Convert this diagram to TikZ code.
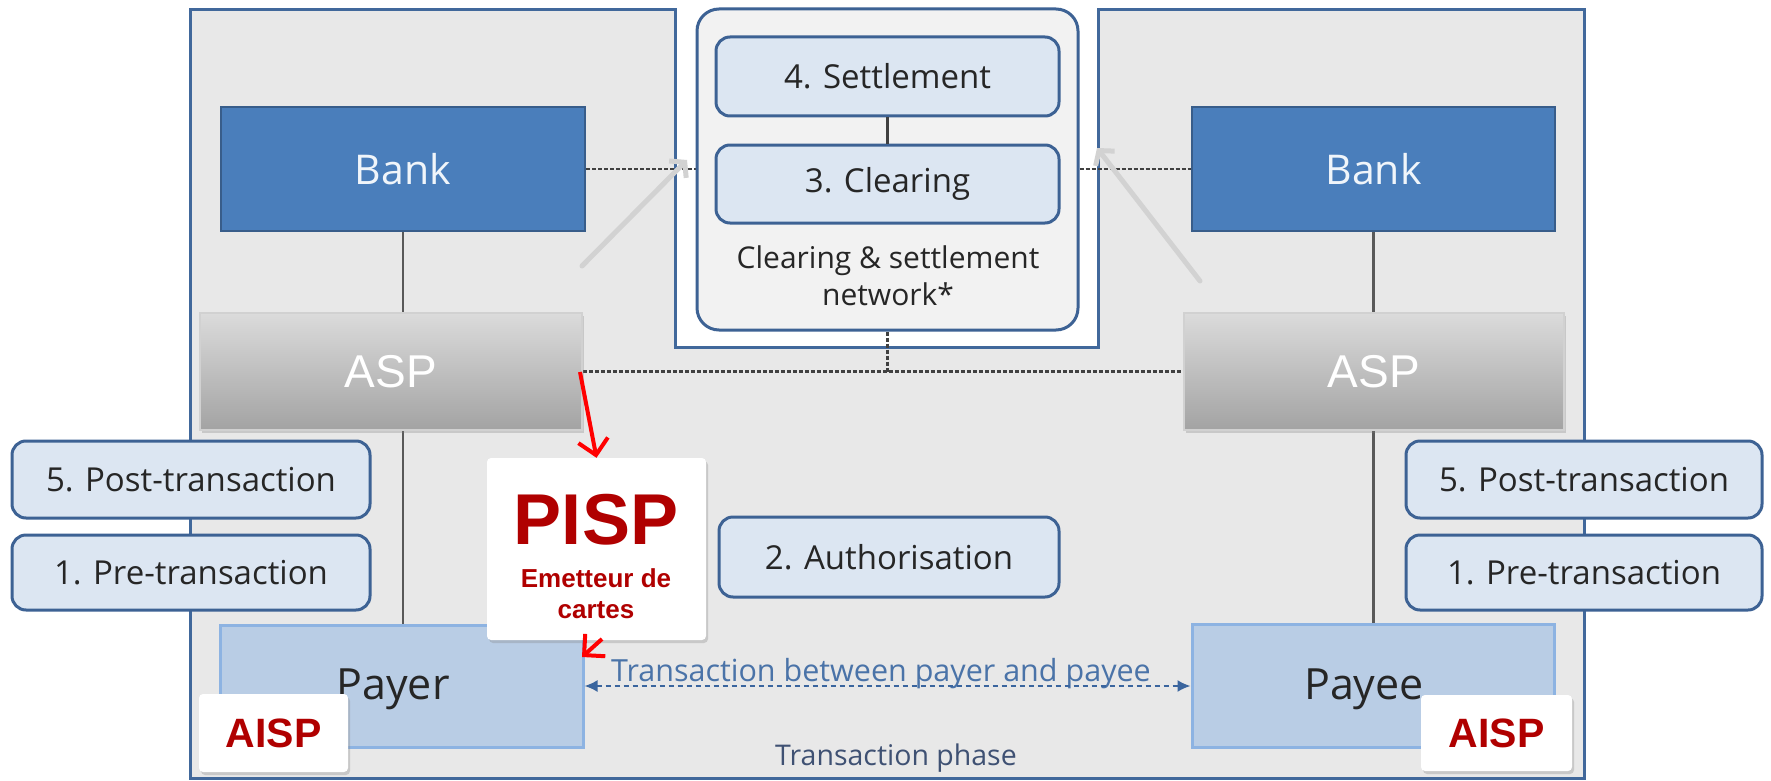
\documentclass[tikz,border=0pt]{standalone}
\usepackage{fontspec}
\setmainfont{Open Sans}
\newfontfamily\arialf{Liberation Sans}
\usetikzlibrary{arrows.meta,shadows}
\definecolor{framefill}{HTML}{E8E8E8}
\definecolor{frameline}{HTML}{41689B}
\definecolor{netfill}{HTML}{F2F2F2}
\definecolor{stepfill}{HTML}{DCE6F2}
\definecolor{stepline}{HTML}{3D6294}
\definecolor{bankfill}{HTML}{4A7EBB}
\definecolor{bankline}{HTML}{385D8A}
\definecolor{partyfill}{HTML}{B9CDE5}
\definecolor{partyline}{HTML}{8DB3E2}
\definecolor{asptop}{HTML}{DBDBDB}
\definecolor{aspbot}{HTML}{A3A3A3}
\definecolor{connline}{HTML}{595959}
\definecolor{dashline}{HTML}{404040}
\definecolor{ghost}{HTML}{D2D2D2}
\definecolor{darkred}{HTML}{B00000}
\definecolor{txblue}{HTML}{3A659E}
\definecolor{txtext}{HTML}{4A73A8}
\definecolor{phasetext}{HTML}{3F5173}
\definecolor{ink}{HTML}{262626}
\pgfdeclarelayer{bottom}
\pgfdeclarelayer{back}
\pgfdeclarelayer{front}
\pgfsetlayers{bottom,back,main,front}
\tikzset{
  stepbox/.style={draw=stepline, line width=3pt, fill=stepfill, rounded corners=14pt, text=ink, inner sep=0pt, font=\fontsize{33}{40}\selectfont},
  bankbox/.style={draw=bankline, line width=2.5pt, fill=bankfill, text=white!92!bankfill, inner sep=0pt, font=\fontsize{41}{48}\selectfont},
  aspbox/.style={top color=asptop, bottom color=aspbot, draw=white!82!black, line width=1.5pt, inner sep=0pt, text=white, font=\arialf\fontsize{46}{55}\selectfont, drop shadow={shadow xshift=2pt, shadow yshift=-3pt, opacity=0.3}},
  partybox/.style={draw=partyline, line width=3pt, fill=partyfill, text=ink, inner sep=0pt},
  netbox/.style={draw=stepline, line width=3pt, fill=netfill, rounded corners=22pt, inner sep=0pt},
  notebox/.style={fill=white, rounded corners=4pt, inner sep=0pt, drop shadow={shadow xshift=2pt, shadow yshift=-3pt, opacity=0.3}},
  redtext/.style={text=darkred, font=\arialf\bfseries\fontsize{#1}{#1}\selectfont},
  conn/.style={draw=connline, line width=2.5pt},
  dashconn/.style={draw=dashline, line width=2.5pt, dash pattern=on 4pt off 2pt},
  ghostarrow/.style={draw=ghost, line width=5pt, line cap=round, -{Straight Barb[length=10pt,width=24pt,line width=5pt]}},
  redarrow/.style={draw=red, line width=4pt, -{Straight Barb[length=15pt,width=30pt,line width=4pt]}},
  txarrow/.style={draw=txblue, line width=2pt, dash pattern=on 5pt off 4pt, {Latex[length=13pt,width=12pt]}-{Latex[length=13pt,width=12pt]}},
}
\begin{document}
\begin{tikzpicture}[x=1pt,y=-1pt]
\useasboundingbox (0,0) rectangle (1771,781);
\begin{pgfonlayer}{bottom}
  \fill[white] (0,0) rectangle (1771,781);
  \draw[fill=framefill, draw=frameline, line width=3pt]
    (190,10) -- (675,10) -- (675,347) -- (1098,347) -- (1098,10) -- (1584,10) -- (1584,778) -- (190,778) -- cycle;
\end{pgfonlayer}

% clearing & settlement network
\node[netbox, minimum width=381pt, minimum height=321pt] (net) at (887.5,169.5) {};
\node[stepbox, minimum width=343pt, minimum height=79pt] (settle) at (887.5,76.5) {4. Settlement};
\node[stepbox, minimum width=343pt, minimum height=78pt] (clear) at (887.5,184) {3. Clearing};
\node[anchor=base, text=ink, font=\fontsize{30}{36}\selectfont] (netlbl1) at (888,268) {Clearing \& settlement};
\node[anchor=base, text=ink, font=\fontsize{30}{36}\selectfont] (netlbl2) at (888,305) {network*};

% banks
\node[bankbox, minimum width=364pt, minimum height=124pt] (bankL) at (403,169) {Bank};
\node[bankbox, minimum width=363pt, minimum height=124pt] (bankR) at (1373.5,169) {Bank};

% ASPs
\node[aspbox, minimum width=382pt, minimum height=117pt] (aspL) at (391,371.5) {ASP};
\node[aspbox, minimum width=380pt, minimum height=117pt] (aspR) at (1374,371.5) {ASP};

% phase boxes
\node[stepbox, minimum width=358pt, minimum height=77pt] (postL) at (191,479.5) {5. Post-transaction};
\node[stepbox, minimum width=358pt, minimum height=75pt] (preL) at (191,572.5) {1. Pre-transaction};
\node[stepbox, minimum width=356pt, minimum height=77pt] (postR) at (1584,479.5) {5. Post-transaction};
\node[stepbox, minimum width=356pt, minimum height=75pt] (preR) at (1584,572.5) {1. Pre-transaction};
\node[stepbox, minimum width=340pt, minimum height=80pt] (auth) at (889,557) {2. Authorisation};

% parties
\node[partybox, minimum width=363pt, minimum height=122pt] (payer) at (401.5,686) {};
\node[partybox, minimum width=362pt, minimum height=123pt] (payee) at (1373,686) {};
\node[text=ink, font=\fontsize{43}{50}\selectfont] (payerlbl) at (393,689) {Payer};
\node[text=ink, font=\fontsize{43}{50}\selectfont] (payeelbl) at (1364,689) {Payee};

\node[anchor=base, text=txtext, font=\fontsize{30.5}{36}\selectfont] (txlbl) at (881,681) {Transaction between payer and payee};
\node[anchor=base, text=phasetext, font=\fontsize{28.5}{34}\selectfont] (phase) at (896,765) {Transaction phase};

% connectors
\begin{pgfonlayer}{back}
  \draw[conn] (bankL.south) -- (bankL.south |- payer.north);
  \draw[conn] (bankR.south) -- (bankR.south |- payee.north);
  \draw[dashconn] (bankL.east) -- (bankL.east -| net.west);
  \draw[dashconn] (bankR.west -| net.east) -- (bankR.west);
  \draw[dashconn] (aspL.east) -- (aspR.west);
  \draw[dashconn] (net.south) -- (net.south |- aspL.east);
\end{pgfonlayer}
\draw[draw=dashline, line width=2.5pt] (settle.south) -- (clear.north);
\draw[txarrow] (payer.east) -- (payee.west);

% grey arrows
\coordinate (glTail) at (582,266);
\coordinate (glTip) at (687,160);
\coordinate (grTail) at (1200,281);
\coordinate (grTip) at (1097,148);
\draw[ghostarrow] (glTail) -- (glTip);
\draw[ghostarrow] (grTail) -- (grTip);

% annotations
\begin{pgfonlayer}{front}
  \node[notebox, minimum width=219pt, minimum height=182pt] (pisp) at (596.5,549) {};
  \node[anchor=base, redtext=72] (pispT) at (596,544) {PISP};
  \node[anchor=base, redtext=26] (pispS1) at (596,587) {Emetteur de};
  \node[anchor=base, redtext=26] (pispS2) at (596,618) {cartes};
  \node[notebox, minimum width=149pt, minimum height=78pt, redtext=41] (aispL) at (273.5,733) {AISP};
  \node[notebox, minimum width=151pt, minimum height=76pt, redtext=41] (aispR) at (1496.5,733) {AISP};
  \coordinate (r1Tail) at (580,372);
  \draw[redarrow] (r1Tail) -- (pisp.north);
  \coordinate (r2Tail) at (602,639);
  \coordinate (r2Tip) at (582,657);
  \draw[redarrow] (r2Tail) -- (r2Tip);
\end{pgfonlayer}
\end{tikzpicture}
\end{document}
